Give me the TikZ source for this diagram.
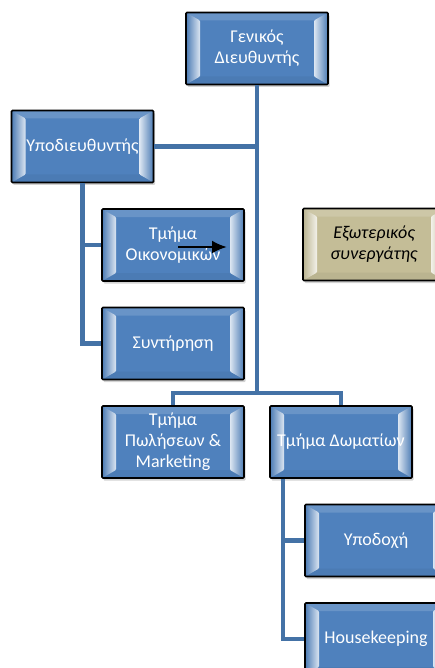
\documentclass[tikz,border=0pt]{standalone}
\usepackage{fontspec}
\setmainfont{Carlito}
\usetikzlibrary{shadows,calc,arrows.meta}
\definecolor{boxblue}{RGB}{79,129,189}
\definecolor{boxkhaki}{RGB}{196,189,151}
\definecolor{linkblue}{RGB}{68,114,166}
\begin{document}
\begin{tikzpicture}[
    x=1pt, y=-1pt,
    every path/.style={>={Latex[length=15pt,width=13pt]}},
    every node/.style={},
    font=\fontsize{18}{21}\selectfont,
    unit/.style={draw=black, line width=1.6pt, rounded corners=1pt, fill=#1, minimum width=142pt,
      minimum height=72pt, inner sep=1pt, align=center, text=white,
      drop shadow={shadow xshift=1.5pt, shadow yshift=-2.5pt, opacity=0.35},
      path picture={
        \coordinate (sw) at (path picture bounding box.south west);
        \coordinate (ne) at (path picture bounding box.north east);
        \coordinate (nw) at (sw |- ne);
        \coordinate (se) at (ne |- sw);
        \fill[#1!85!white] (nw) -- ($(nw)+(14pt,-8pt)$) -- ($(ne)+(-14pt,-8pt)$) -- (ne) -- cycle;
        \fill[#1!95!black] (sw) -- ($(sw)+(14pt,8pt)$) -- ($(se)+(-14pt,8pt)$) -- (se) -- cycle;
        \shade[left color=#1!95!black, middle color=#1!55!white, right color=white!80!#1]
          (sw) -- ($(sw)+(14pt,8pt)$) -- ($(nw)+(14pt,-8pt)$) -- (nw) -- cycle;
        \shade[right color=#1!95!black, middle color=#1!55!white, left color=white!80!#1]
          (se) -- ($(se)+(-14pt,8pt)$) -- ($(ne)+(-14pt,-8pt)$) -- (ne) -- cycle;
      }},
    unit/.default=boxblue,
    link/.style={draw=linkblue, line width=4.5pt}
    ]
    \path[use as bounding box] (0,0) rectangle (435,668);
    \clip (0,0) rectangle (435,668);
    
    % nodes
    \node[unit] (gm) at (257,48.5) {Γενικός\\Διευθυντής};
    \node[unit] (dep) at (82.5,146.5) {Υποδιευθυντής};
    
    \node[unit] (fin) at (173,245) {Τμήμα\\Οικονομικών};
    \node[unit] (maint) at (173,343.5) {Συντήρηση};
    
    \node[unit=boxkhaki, text=black, font=\fontsize{18}{21}\selectfont\itshape] (ext) at (374,244.5) {Εξωτερικός\\συνεργάτης};
    
    \node[unit] (sales) at (173,442) {Τμήμα\\Πωλήσεων \&\\Marketing};
    \node[unit] (rooms) at (341,442) {Τμήμα Δωματίων};
    
    \node[unit] (recep) at (376,540.5) {Υποδοχή};
    \node[unit] (hk) at (376,639) {Housekeeping};
    
    \coordinate (bus) at (257,393);
    \coordinate (ar1) at (178,247);
    \coordinate (ar2) at (227,247);
    
    % edges
    \draw[link] (gm.south) -- (gm.south |- bus);
    \draw[link] (dep.east) -- (dep.east -| gm.south);
    
    \draw[link] (dep.south) |- (fin.west);
    \draw[link] (dep.south) |- (maint.west);
    
    \draw[link] (sales.north) |- (bus) -| (rooms.north);
    
    \draw[link] ([xshift=14pt]rooms.south west) |- (recep.west);
    \draw[link] ([xshift=14pt]rooms.south west) |- (hk.west);
    
    \draw[->, line width=2.5pt] (ar1) -- (ar2);
    
\end{tikzpicture}
\end{document}
